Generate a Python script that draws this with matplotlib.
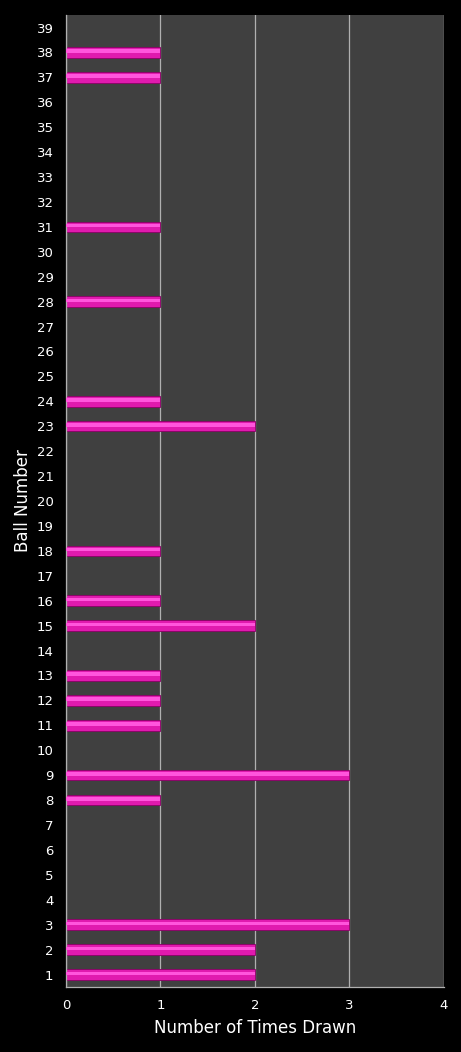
import matplotlib
matplotlib.use('Agg')
import matplotlib.pyplot as plt

# Ball numbers and how many times each was drawn
balls = list(range(1, 40))
times_drawn = [2, 2, 3, 0, 0, 0, 0, 1, 3, 0,
               1, 1, 1, 0, 2, 1, 0, 1, 0, 0,
               0, 0, 2, 1, 0, 0, 0, 1, 0, 0,
               1, 0, 0, 0, 0, 0, 1, 1, 0]
x_ticks = [0, 1, 2, 3, 4]

fig = plt.figure(figsize=(4.61, 10.52), dpi=100, facecolor='black')
ax = fig.add_axes([0.1432, 0.0618, 0.8198, 0.9239])
ax.set_facecolor('#404040')

# Grid lines
ax.set_axisbelow(True)
ax.grid(axis='x', color='#b0b0b0', linewidth=0.9)

# Bars: base, darker bottom edge, lighter highlight on top
ax.barh(balls, times_drawn, height=0.42, color='#e01aae', edgecolor='#8a0066', linewidth=0.6, zorder=2)
ax.barh([b + 0.05 for b in balls], times_drawn, height=0.14, color='#ff55dc', linewidth=0, zorder=3)

ax.set_xlim(0, 4)
ax.set_ylim(0.5, 39.5)
ax.set_xticks(x_ticks)
ax.set_yticks(balls)
ax.set_yticklabels([str(b) for b in balls])

for side in ['top', 'right']:
    ax.spines[side].set_visible(False)
for side in ['left', 'bottom']:
    ax.spines[side].set_color('#b0b0b0')
    ax.spines[side].set_linewidth(0.9)

ax.tick_params(axis='both', colors='white', labelsize=9.5, length=0)
ax.tick_params(axis='x', pad=9)
ax.tick_params(axis='y', pad=9)

ax.set_xlabel('Number of Times Drawn', color='white', fontsize=12, labelpad=5)
ax.set_ylabel('Ball Number', color='white', fontsize=12)
ax.yaxis.set_label_coords(-0.09, 0.5)

plt.savefig('out.png', dpi=100, facecolor='black')
plt.close()
